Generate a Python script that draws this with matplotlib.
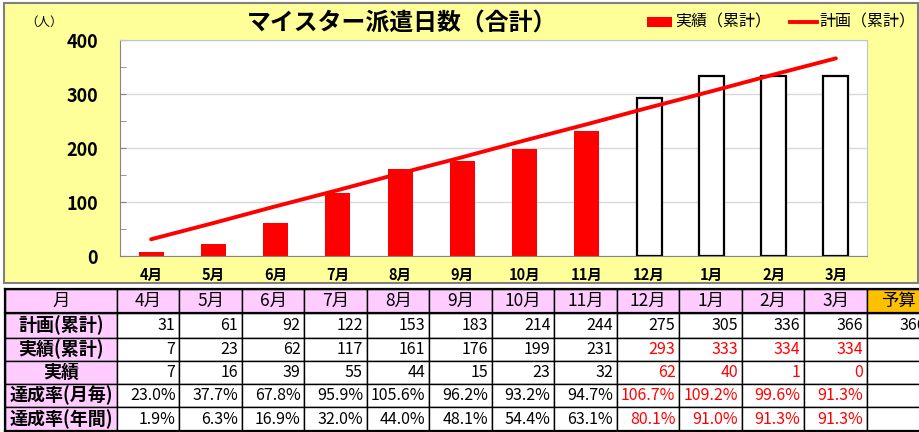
import numpy as np
import matplotlib.pyplot as plt
from matplotlib.patches import Rectangle
from matplotlib.lines import Line2D
from matplotlib.ticker import MultipleLocator

plt.rcParams['font.family'] = ['Noto Sans CJK JP', 'DejaVu Sans']

months = ['4月', '5月', '6月', '7月', '8月', '9月', '10月', '11月', '12月', '1月', '2月', '3月']
plan_cum = [31, 61, 92, 122, 153, 183, 214, 244, 275, 305, 336, 366]
actual_cum = [7, 23, 62, 117, 161, 176, 199, 231, 293, 333, 334, 334]
actual_month = [7, 16, 39, 55, 44, 15, 23, 32, 62, 40, 1, 0]
rate_month = [23.0, 37.7, 67.8, 95.9, 105.6, 96.2, 93.2, 94.7, 106.7, 109.2, 99.6, 91.3]
rate_year = [1.9, 6.3, 16.9, 32.0, 44.0, 48.1, 54.4, 63.1, 80.1, 91.0, 91.3, 91.3]
n_done = 8          # months with real results (red bars)
budget = 366

RED = '#FF0000'
YELLOW = '#FFFF99'
PINK = '#FFCCFF'
ORANGE = '#FFC000'

W, H = 920, 432
fig = plt.figure(figsize=(W / 100, H / 100), dpi=100)

# overlay in pixel coordinates for the frame, legend and table
ov = fig.add_axes([0, 0, 1, 1], zorder=0)
ov.set_xlim(0, W)
ov.set_ylim(H, 0)
ov.axis('off')

ov.add_patch(Rectangle((4, 3), 914, 280, facecolor=YELLOW, edgecolor='#808080', lw=1.5))

# chart
ax = fig.add_axes([120 / W, 1 - 256 / H, (867 - 120) / W, (256 - 40) / H], zorder=1)
x = np.arange(len(months))
ax.bar(x[:n_done], actual_cum[:n_done], width=0.4, color=RED, zorder=2)
ax.bar(x[n_done:], actual_cum[n_done:], width=0.4, facecolor='white',
       edgecolor='black', lw=1.6, zorder=2)
ax.plot(x, plan_cum, color=RED, lw=2.8, solid_capstyle='round', zorder=3)

ax.set_xlim(-0.5, len(months) - 0.5)
ax.set_ylim(0, 400)
ax.yaxis.set_major_locator(MultipleLocator(100))
ax.yaxis.set_minor_locator(MultipleLocator(50))
ax.grid(axis='y', which='major', color='#D9D9D9', lw=1, zorder=0)
ax.set_xticks(x)
ax.set_xticklabels(months, fontsize=10.5, fontweight='bold')
ax.tick_params(axis='x', length=0, pad=8)
ax.tick_params(axis='y', which='both', direction='in', length=4, color='#868686',
               labelsize=13, pad=16)
for lab in ax.get_yticklabels():
    lab.set_fontweight('bold')
for s in ['left', 'bottom']:
    ax.spines[s].set_color('#868686')
for s in ['top', 'right']:
    ax.spines[s].set_color('#B4C7DC')

# title, unit, legend
ov.text(402, 23, 'マイスター派遣日数（合計）', fontsize=17.2, fontweight='bold',
        ha='center', va='center')
ov.text(44, 22, '（人）', fontsize=9, ha='center', va='center')
ov.add_patch(Rectangle((647, 17), 25, 10, facecolor=RED, edgecolor='none'))
ov.text(675, 22, '実績（累計）', fontsize=11.5, ha='left', va='center')
ov.add_line(Line2D([790, 817], [22, 22], color=RED, lw=2.8))
ov.text(819, 22, '計画（累計）', fontsize=11.5, ha='left', va='center')

# table
col_x = [5, 117] + [117 + 62.5 * (i + 1) for i in range(len(months))] + [930]
row_y = [289, 313, 338, 361, 384, 407, 431]
row_labels = ['計画(累計)', '実績(累計)', '実績', '達成率(月毎)', '達成率(年間)']
rows = [
    [str(v) for v in plan_cum],
    [str(v) for v in actual_cum],
    [str(v) for v in actual_month],
    ['%.1f%%' % v for v in rate_month],
    ['%.1f%%' % v for v in rate_year],
]
budget_col = [str(budget), '', '', '', '']

ncol = len(col_x) - 1
for r in range(len(row_y) - 1):
    y0, y1 = row_y[r], row_y[r + 1]
    yc = (y0 + y1) / 2
    for c in range(ncol):
        x0, x1 = col_x[c], col_x[c + 1]
        if r == 0:
            fc = ORANGE if c == ncol - 1 else PINK
        else:
            fc = PINK if c == 0 else 'white'
        ov.add_patch(Rectangle((x0, y0), x1 - x0, y1 - y0, facecolor=fc,
                               edgecolor='black', lw=1))
        if r == 0:
            if c == 0:
                txt = '月'
            elif c == ncol - 1:
                txt = '予算'
            else:
                txt = months[c - 1]
            ov.text((x0 + x1) / 2, yc, txt, fontsize=12.5, ha='center', va='center')
        elif c == 0:
            ov.text((x0 + x1) / 2, yc, row_labels[r - 1], fontsize=13,
                    fontweight='bold', ha='center', va='center')
        else:
            if c == ncol - 1:
                txt = budget_col[r - 1]
                color = 'black'
            else:
                txt = rows[r - 1][c - 1]
                color = RED if (r > 1 and c - 1 >= n_done) else 'black'
            ov.text(x1 - 4, yc, txt, fontsize=11.5, color=color, ha='right', va='center')

# heavier outline / header separators
for yy in (row_y[0], row_y[1], row_y[-1]):
    ov.add_line(Line2D([5, 930], [yy, yy], color='black', lw=1.6))
ov.add_line(Line2D([5, 5], [row_y[0], row_y[-1]], color='black', lw=1.6))

fig.savefig('out.png', dpi=100, facecolor='white')
